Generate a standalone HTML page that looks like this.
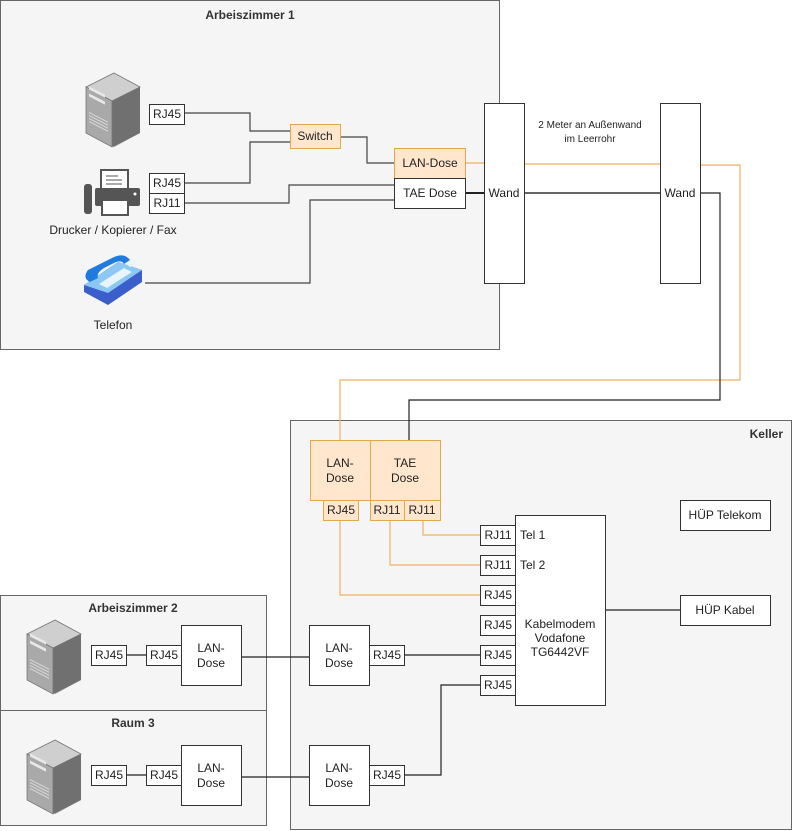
<!DOCTYPE html>
<html><head><meta charset="utf-8"><style>
html,body{margin:0;padding:0;background:#fff}
svg{display:block}
text{font-family:"Liberation Sans",sans-serif;font-size:12px;fill:#222}
.b{font-weight:bold;fill:#333}
</style></head><body>
<svg width="792" height="831" viewBox="0 0 792 831" xmlns="http://www.w3.org/2000/svg">
<defs>
<g id="srv">
 <polygon points="0,14 28,0 54,14 54,60 28,74 0,60" fill="#8a8a8a"/>
 <polygon points="0,14 28,0 54,14 26,28" fill="#cfcfcf" stroke="#777" stroke-width="0.8"/>
 <polygon points="26,28 54,14 54,60 26,74" fill="#707070"/>
 <polygon points="0,14 26,28 26,74 0,60" fill="#a9a9a9" stroke="#777" stroke-width="0.8"/>
 <rect x="3" y="26" width="16" height="3" fill="#e8e8e8" transform="skewY(27) translate(0,-14)"/>
 <rect x="3" y="33" width="16" height="3" fill="#e8e8e8" transform="skewY(27) translate(0,-14)"/>
 <g stroke="#ddd" stroke-width="1" transform="skewY(27) translate(0,-14)">
  <line x1="3" y1="52" x2="22" y2="52"/><line x1="3" y1="55" x2="22" y2="55"/><line x1="3" y1="58" x2="22" y2="58"/><line x1="3" y1="61" x2="22" y2="61"/>
 </g>
</g>
</defs>
<g stroke="#666" stroke-width="1">
<rect x="0.5" y="0.5" width="499" height="349" fill="#f5f5f5"/>
<rect x="290.5" y="420.5" width="501" height="409" fill="#f5f5f5"/>
<rect x="0.5" y="595.5" width="266" height="115" fill="#f5f5f5"/>
<rect x="0.5" y="710.5" width="266" height="115" fill="#f5f5f5"/>
</g>
<text x="250" y="19" text-anchor="middle" class="b">Arbeiszimmer 1</text>
<text x="783" y="438" text-anchor="end" class="b">Keller</text>
<text x="133" y="612" text-anchor="middle" class="b">Arbeiszimmer 2</text>
<text x="133" y="727" text-anchor="middle" class="b">Raum 3</text>

<!-- connectors -->
<g fill="none" stroke-width="1.2">
 <path d="M184,113H250V131H290" stroke="#444"/>
 <path d="M184,183H250V142H290" stroke="#444"/>
 <path d="M340,137H367V163H394" stroke="#444"/>
 <path d="M184,203H289V185H394" stroke="#444"/>
 <path d="M145,283H310V200H394" stroke="#444"/>
 <path d="M465,163H485" stroke="#f0b060"/>
 <path d="M465,193H485" stroke="#222" stroke-width="2"/>
 <path d="M525,164H660" stroke="#f0b060"/>
 <path d="M700,165H740V380H340V440" stroke="#f0b060"/>
 <path d="M525,193H660" stroke="#666" stroke-width="2"/>
 <path d="M700,193H720V400H409V440" stroke="#222"/>
 <path d="M423,520V535H480" stroke="#f0b060"/>
 <path d="M390,520V565H480" stroke="#f0b060"/>
 <path d="M340,520V595H480" stroke="#f0b060"/>
 <path d="M605,610H680" stroke="#222"/>
 <path d="M404,655H480" stroke="#222"/>
 <path d="M404,775H441V685H480" stroke="#222"/>
 <path d="M241,657H309" stroke="#222"/>
 <path d="M241,777H309" stroke="#222"/>
 <path d="M126,655H146" stroke="#222"/>
 <path d="M126,775H146" stroke="#222"/>
</g>

<g stroke="#333" stroke-width="1">
 <!-- AZ1 -->
 <rect x="149.5" y="104.5" width="35" height="20" fill="#fff"/>
 <rect x="149.5" y="173.5" width="35" height="20" fill="#fff"/>
 <rect x="149.5" y="193.5" width="35" height="20" fill="#fff"/>
 <rect x="290.5" y="124.5" width="50" height="24" fill="#ffe6cc" stroke="#e3a84a"/>
 <rect x="394.5" y="148.5" width="71" height="30" fill="#ffe6cc" stroke="#e3a84a"/>
 <rect x="394.5" y="178.5" width="71" height="30" fill="#fff"/>
 <rect x="484.5" y="103.5" width="40" height="180" fill="#fff"/>
 <rect x="660.5" y="103.5" width="40" height="180" fill="#fff"/>
 <!-- Keller -->
 <rect x="310.5" y="440.5" width="60" height="60" fill="#ffe6cc" stroke="#e3a84a"/>
 <rect x="370.5" y="440.5" width="70" height="60" fill="#ffe6cc" stroke="#e3a84a"/>
 <rect x="323.5" y="500.5" width="35" height="20" fill="#ffe6cc" stroke="#e3a84a"/>
 <rect x="370.5" y="500.5" width="34" height="20" fill="#ffe6cc" stroke="#e3a84a"/>
 <rect x="404.5" y="500.5" width="36" height="20" fill="#ffe6cc" stroke="#e3a84a"/>
 <rect x="515.5" y="515.5" width="90" height="190" fill="#fff"/>
 <rect x="480.5" y="525.5" width="35" height="20" fill="#fff"/>
 <rect x="480.5" y="555.5" width="35" height="20" fill="#fff"/>
 <rect x="480.5" y="585.5" width="35" height="20" fill="#fff"/>
 <rect x="480.5" y="615.5" width="35" height="20" fill="#fff"/>
 <rect x="480.5" y="645.5" width="35" height="20" fill="#fff"/>
 <rect x="480.5" y="675.5" width="35" height="20" fill="#fff"/>
 <rect x="680.5" y="500.5" width="90" height="30" fill="#fff"/>
 <rect x="680.5" y="595.5" width="90" height="30" fill="#fff"/>
 <rect x="309.5" y="625.5" width="60" height="60" fill="#fff"/>
 <rect x="369.5" y="645.5" width="35" height="20" fill="#fff"/>
 <rect x="309.5" y="745.5" width="60" height="60" fill="#fff"/>
 <rect x="369.5" y="765.5" width="35" height="20" fill="#fff"/>
 <!-- AZ2 / Raum3 -->
 <rect x="91.5" y="645.5" width="35" height="20" fill="#fff"/>
 <rect x="146.5" y="645.5" width="35" height="20" fill="#fff"/>
 <rect x="181.5" y="625.5" width="60" height="60" fill="#fff"/>
 <rect x="91.5" y="765.5" width="35" height="20" fill="#fff"/>
 <rect x="146.5" y="765.5" width="35" height="20" fill="#fff"/>
 <rect x="181.5" y="745.5" width="60" height="60" fill="#fff"/>
</g>

<!-- icons -->
<use href="#srv" x="86" y="73"/>
<use href="#srv" x="27" y="620"/>
<use href="#srv" x="27" y="740"/>
<!-- printer -->
<g>
 <rect x="84" y="184" width="8" height="30" rx="3" fill="#555"/>
 <rect x="101" y="170" width="27" height="28" fill="#fff" stroke="#555" stroke-width="2"/>
 <line x1="106" y1="176" x2="118" y2="176" stroke="#555"/><line x1="106" y1="180" x2="122" y2="180" stroke="#555"/><line x1="106" y1="184" x2="122" y2="184" stroke="#555"/>
 <rect x="95" y="188" width="45" height="18" rx="2" fill="#555"/>
 <rect x="102" y="200" width="26" height="15" fill="#fff" stroke="#555" stroke-width="2"/>
 <circle cx="135" cy="194" r="1.5" fill="#fff"/>
</g>
<!-- phone -->
<g>
 <polygon points="84,285 118,262 142,270 142,282 108,305 84,292" fill="#3a5fcc"/>
 <polygon points="84,285 118,262 142,270 108,293" fill="#8cc8f5"/>
 <polygon points="99,284 124,268 132,272 107,288" fill="#e8f4ff"/>
 <path d="M88,270 q-6,8 2,12 l8,-4 q-2,-5 6,-10 l12,-6 q6,-2 8,2 l6,-4 q-6,-8 -18,-2 z" fill="#1e7be0"/>
 <polygon points="126,264 134,260 138,263 130,267" fill="#e8f4ff"/>
</g>

<!-- labels -->
<g text-anchor="middle">
 <text x="167" y="118">RJ45</text>
 <text x="167" y="187">RJ45</text>
 <text x="167" y="207">RJ11</text>
 <text x="315" y="140">Switch</text>
 <text x="430" y="167">LAN-Dose</text>
 <text x="430" y="197">TAE Dose</text>
 <text x="504" y="197">Wand</text>
 <text x="680" y="197">Wand</text>
 <text x="590" y="128" style="font-size:10px">2 Meter an Außenwand</text>
 <text x="590" y="142" style="font-size:10px">im Leerrohr</text>
 <text x="113" y="234">Drucker / Kopierer / Fax</text>
 <text x="113" y="329">Telefon</text>
 <text x="340" y="467">LAN-</text><text x="340" y="482">Dose</text>
 <text x="405" y="467">TAE</text><text x="405" y="482">Dose</text>
 <text x="341" y="514">RJ45</text>
 <text x="387" y="514">RJ11</text>
 <text x="422" y="514">RJ11</text>
 <text x="498" y="539">RJ11</text>
 <text x="498" y="569">RJ11</text>
 <text x="498" y="599">RJ45</text>
 <text x="498" y="629">RJ45</text>
 <text x="498" y="659">RJ45</text>
 <text x="498" y="689">RJ45</text>
 <text x="560" y="628">Kabelmodem</text>
 <text x="560" y="642">Vodafone</text>
 <text x="560" y="656">TG6442VF</text>
 <text x="725" y="519">HÜP Telekom</text>
 <text x="725" y="614">HÜP Kabel</text>
 <text x="339" y="652">LAN-</text><text x="339" y="667">Dose</text>
 <text x="387" y="659">RJ45</text>
 <text x="339" y="772">LAN-</text><text x="339" y="787">Dose</text>
 <text x="387" y="779">RJ45</text>
 <text x="109" y="659">RJ45</text>
 <text x="164" y="659">RJ45</text>
 <text x="211" y="652">LAN-</text><text x="211" y="667">Dose</text>
 <text x="109" y="779">RJ45</text>
 <text x="164" y="779">RJ45</text>
 <text x="211" y="772">LAN-</text><text x="211" y="787">Dose</text>
</g>
<text x="520" y="539">Tel 1</text>
<text x="520" y="569">Tel 2</text>
</svg>
</body></html>
